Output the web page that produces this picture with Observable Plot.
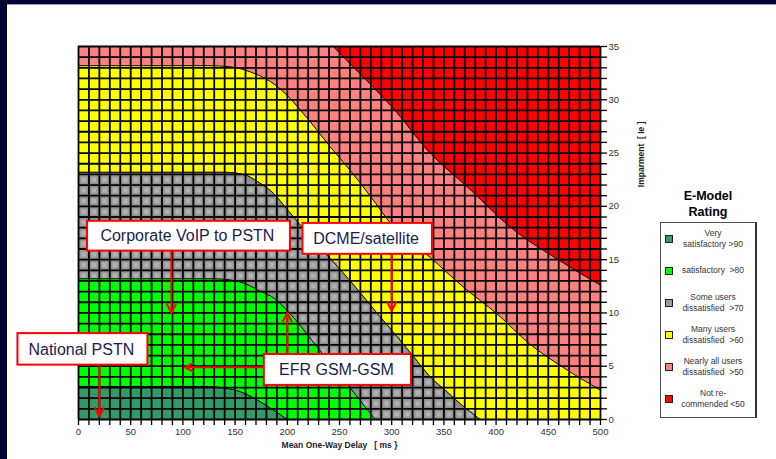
<!DOCTYPE html>
<html><head><meta charset="utf-8">
<script src="https://cdn.jsdelivr.net/npm/d3@7"></script>
<script src="https://cdn.jsdelivr.net/npm/@observablehq/plot@0.6"></script>
<style>
html,body{margin:0;padding:0;background:#fff;}
#wrap{position:relative;width:776px;height:459px;overflow:hidden;background:#fff;font-family:"Liberation Sans",Arial,sans-serif;}
#wrap svg{position:absolute;left:0;top:0;}
.band{position:absolute;background:#000036;}
.ltitle{position:absolute;left:660px;top:187.7px;width:96px;text-align:center;font-weight:bold;font-size:12.5px;line-height:16px;color:#000;}
.lbox{position:absolute;left:660px;top:221.5px;width:94px;height:194px;border:1px solid #555;border-right:2px solid #333;}
.litem{position:absolute;left:672px;width:82px;text-align:center;font-size:8.5px;line-height:10.7px;color:#333;}
.lsw{position:absolute;left:665px;width:6px;height:6px;border:1px solid #222;}
</style></head><body><div id="wrap"></div>
<script>
// Boundaries between rating bands: [mean one-way delay (ms), impairment Ie]
const boundary90 = [[0,3.1],[120,3.1],[140,2.95],[155,2.6],[170,1.9],[185,1.0],[200,0]];
const boundary80 = [[0,13.2],[130,13.2],[145,13.1],[158,12.8],[175,12.0],[187,11.4],[196,10.6],[203,9.9],[219,8.0],[235,6.0],[250,4.2],[260,3.0],[272,1.5],[284,0]];
const boundary70 = [[0,23.2],[140,23.2],[158,23.0],[172,22.3],[187,21.2],[200,19.7],[213,18.2],[225,16.8],[243,14.9],[263,12.7],[285,10.1],[305,7.8],[321,5.9],[337,4.0],[353,2.6],[369,1.2],[385,0]];
const boundary60 = [[0,33.2],[125,33.2],[145,33.1],[165,32.6],[184,31.7],[200,30.4],[212,29.1],[228,27.2],[241,25.6],[260,23.4],[280,20.9],[299,18.4],[337,15.2],[369,12.4],[401,9.9],[432,7.1],[464,4.9],[500,2.75]];
const boundary50 = [[0,60],[220,37.4],[244,35],[270,32.4],[305,28.8],[333,25.4],[375,21.6],[413,18.1],[461,14.9],[500,12.6]];

const bandColors = ["#339966","#00ff00","#909090","#ffff00","#ff8080","#ff0000"];
const legendSwatch = ["#339966","#00ff00","#9a9a9a","#ffff00","#ff8080","#ff0000"];
const legendLabels = [["Very","satisfactory >90"],["satisfactory\u00a0\u00a0>80"],["Some users","dissatisfied\u00a0\u00a0>70"],["Many users","dissatisfied\u00a0\u00a0>60"],["Nearly all users","dissatisfied\u00a0\u00a0>50"],["Not re-","commended <50"]];

const xTicks = d3.range(0, 501, 10);
const yTicks = d3.range(0, 36, 1);

// Annotation boxes (data coordinates) and their arrows
const notes = [
  {label:"Corporate VoIP to PSTN", x1:8.6, x2:203, y1:15.8, y2:18.6},
  {label:"DCME/satellite", x1:215, x2:339, y1:15.5, y2:18.4},
  {label:"EFR GSM-GSM", x1:178, x2:319, y1:3.2, y2:6.1},
  {label:"National PSTN", x1:-58, x2:66.5, y1:5.1, y2:8.06}
];
const arrows = [
  {x1:89, y1:15.8, x2:89, y2:10.0},
  {x1:300, y1:15.5, x2:300, y2:10.2},
  {x1:200, y1:6.1, x2:200, y2:10.0},
  {x1:178, y1:4.9, x2:102, y2:4.9},
  {x1:20, y1:5.1, x2:20, y2:0.3}
];

function interp(pts, x) {
  for (let i = 1; i < pts.length; i++) {
    if (x <= pts[i][0]) {
      const [x0,y0] = pts[i-1], [x1,y1] = pts[i];
      return y0 + (y1 - y0) * (x - x0) / (x1 - x0);
    }
  }
  return pts[pts.length-1][1];
}
// cells of the grey band get a bevelled, lighter centre
const greyCells = [];
for (let cx = 5; cx < 500; cx += 10) for (let cy = 0.5; cy < 35; cy += 1) {
  const lo = cx > 284 ? 0 : interp(boundary80, cx);
  const hi = cx > 385 ? -1 : interp(boundary70, cx);
  if (cy > lo + 0.15 && cy < hi - 0.15) greyCells.push({x: cx, y: cy});
}

const pts = a => a.map(([x, y]) => ({x, y}));
const bounds = [boundary50, boundary60, boundary70, boundary80, boundary90];
const fills = [bandColors[4], bandColors[3], bandColors[2], bandColors[1], bandColors[0]];

const marks = [
  Plot.frame({fill: bandColors[5]}),
  ...bounds.map((b, i) => Plot.areaY(pts(b), {x: "x", y1: 0, y2: "y", fill: fills[i], curve: "monotone-x", clip: true})),
  Plot.dot(greyCells, {x: "x", y: "y", symbol: "square", r: 3.6, fill: "#a1a1a1"}),
  Plot.dot(greyCells, {x: "x", y: "y", symbol: "square", r: 2.1, fill: "#b3b3b3"}),
  ...bounds.map(b => Plot.line(pts(b), {x: "x", y: "y", stroke: "#000", strokeWidth: 1, curve: "monotone-x", clip: true})),
  Plot.ruleX(xTicks, {stroke: "#000", strokeWidth: 1.8}),
  Plot.ruleY(yTicks, {stroke: "#000", strokeWidth: 1.8}),
  Plot.axisX({ticks: xTicks, tickFormat: d => d % 50 === 0 ? d : "", tickSize: 6, tickPadding: 3, strokeWidth: 1.3, fill: "#333", label: null, fontSize: 9.5}),
  Plot.axisY({anchor: "right", ticks: yTicks, tickFormat: d => d % 5 === 0 ? d : "", tickSize: 6, tickPadding: 2, strokeWidth: 1.3, fill: "#333", label: null, fontSize: 9.5}),
  Plot.text(["Mean One-Way Delay\u00a0\u00a0\u00a0[ ms }"], {frameAnchor: "bottom", dy: 28, fontWeight: "bold", fontSize: 8.5, fill: "#222"}),
  Plot.text(["Imparment\u00a0\u00a0[ Ie ]"], {frameAnchor: "top-right", dx: 37, dy: 75, rotate: -90, fontWeight: "bold", fontSize: 8.5, fill: "#222"}),
  Plot.arrow(arrows, {x1: "x1", y1: "y1", x2: "x2", y2: "y2", stroke: "#ff0000", strokeWidth: 2, headLength: 7, headAngle: 55}),
  Plot.rect(notes, {x1: "x1", x2: "x2", y1: "y1", y2: "y2", fill: "#fff", stroke: "#ff0000", strokeWidth: 2}),
  Plot.text(notes, {x: d => (d.x1 + d.x2) / 2 - 1.5, y: d => (d.y1 + d.y2) / 2, text: "label", fontSize: 16, fill: "#1c1c4c"})
];

const chart = Plot.plot({
  width: 776, height: 459,
  marginLeft: 78, marginRight: 176, marginTop: 46, marginBottom: 40,
  x: {domain: [0, 500]},
  y: {domain: [0, 35]},
  style: {fontFamily: "'Liberation Sans', Arial, sans-serif", fontSize: "9.5px", background: "transparent", overflow: "visible"},
  marks
});

const wrap = document.getElementById("wrap");
wrap.appendChild(chart);

function add(cls, style, html) {
  const d = document.createElement("div");
  d.className = cls;
  Object.assign(d.style, style);
  if (html != null) d.innerHTML = html;
  wrap.appendChild(d);
  return d;
}
add("band", {left: "0px", top: "0px", width: "776px", height: "4px"});
add("", {position: "absolute", left: "7px", top: "4px", width: "769px", height: "1px", background: "#9a9ab0"});
add("band", {left: "0px", top: "0px", width: "7px", height: "459px"});

add("ltitle", {}, "E-Model<br>Rating");
add("lbox", {});
legendLabels.forEach((lines, i) => {
  const cy = 238.7 + i * 32;
  add("lsw", {top: (cy - 4) + "px", background: legendSwatch[i]});
  const h = lines.length * 10.7;
  add("litem", {top: (cy - h / 2) + "px"}, lines.join("<br>"));
});
</script></body></html>
